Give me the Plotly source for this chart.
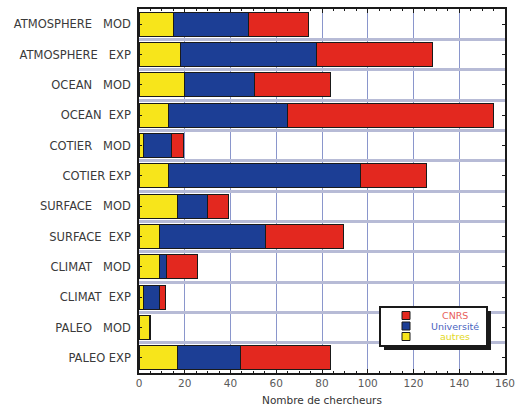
import plotly.graph_objects as go

NB = "\u00a0"

# Research themes, top to bottom
categories = [
    "ATMOSPHERE" + NB * 3 + "MOD",
    "ATMOSPHERE" + NB * 3 + "EXP",
    "OCEAN" + NB * 3 + "MOD",
    "OCEAN" + NB * 2 + "EXP",
    "COTIER" + NB * 3 + "MOD",
    "COTIER" + NB + "EXP",
    "SURFACE" + NB * 3 + "MOD",
    "SURFACE" + NB * 2 + "EXP",
    "CLIMAT" + NB * 3 + "MOD",
    "CLIMAT" + NB * 2 + "EXP",
    "PALEO" + NB * 3 + "MOD",
    "PALEO" + NB + "EXP",
]

# Number of researchers per employer
autres = [15, 18, 20, 13, 2, 13, 17, 9, 9, 2, 4.5, 17]
universite = [33, 59.5, 30.5, 52, 12, 84, 13, 46.5, 3, 7, 0.5, 27.5]
cnrs = [26, 51, 33, 90, 5.5, 28.5, 9, 34, 13.5, 2.5, 0, 39]

x_ticks = [0, 20, 40, 60, 80, 100, 120, 140, 160]

YELLOW = "#f7e51b"
BLUE = "#1c3e95"
RED = "#e3281f"
INK = "#1a1a1a"

W, H = 516, 416
L, R, T, B = 139, 11, 9, 43
FONT = "DejaVu Sans, Liberation Sans, Arial, sans-serif"


def px_x(p):
    return (p - L) / (W - L - R)


def px_y(p):
    return (H - B - p) / (H - T - B)


fig = go.Figure()
series = [
    ("autres", autres, YELLOW, "#e2d81c"),
    ("Université", universite, BLUE, "#4a64c0"),
    ("CNRS", cnrs, RED, "#e8605a"),
]
for name, vals, col, _ in series:
    fig.add_trace(go.Bar(
        y=categories, x=vals, orientation="h", name=name, showlegend=False,
        marker=dict(color=col, line=dict(color=INK, width=1)),
    ))

# overlay axes: category boundary grid lines and the top tick marks
fig.add_trace(go.Scatter(
    y=categories, x=[0] * len(categories), xaxis="x2", yaxis="y2",
    mode="markers", marker=dict(opacity=0), showlegend=False, hoverinfo="skip",
))

n = len(categories)
fig.update_layout(
    width=W, height=H,
    margin=dict(l=L, r=R, t=T, b=B, autoexpand=False),
    paper_bgcolor="white", plot_bgcolor="white",
    barmode="stack", bargap=0.21,
    font=dict(family=FONT, size=10, color="#333333"),
    xaxis=dict(
        range=[0, 160], tickvals=x_ticks, automargin=False,
        ticks="inside", ticklen=4, tickcolor=INK, tickwidth=1,
        showline=True, linecolor=INK, linewidth=1.5, mirror=True,
        showgrid=True, gridcolor="#8a96cc", gridwidth=1,
        minor=dict(dtick=5, ticks="inside", ticklen=2, tickcolor=INK, showgrid=False),
        zeroline=False,
        title=dict(text="Nombre de chercheurs", font=dict(size=10.5, color="#333333"), standoff=8),
        tickfont=dict(size=10.5, color="#5a5a5a"),
    ),
    xaxis2=dict(
        overlaying="x", matches="x", side="top", anchor="y2", automargin=False,
        tickvals=x_ticks, ticks="inside", ticklen=4, tickcolor=INK,
        minor=dict(dtick=5, ticks="inside", ticklen=2, tickcolor=INK, showgrid=False),
        showticklabels=False, showgrid=False, showline=False, zeroline=False,
    ),
    yaxis=dict(
        type="category", categoryorder="array", categoryarray=categories,
        range=[n - 0.5, -0.5], automargin=False,
        ticks="inside", ticklen=3, tickcolor=INK,
        showline=True, linecolor=INK, linewidth=1.5, mirror="ticks",
        showgrid=False,
        tickfont=dict(size=11.5, color="#3a3a3a"),
        ticklabelstandoff=4,
    ),
    yaxis2=dict(
        type="category", categoryorder="array", categoryarray=categories,
        overlaying="y", matches="y", tickson="boundaries", anchor="x2", automargin=False,
        showgrid=True, gridcolor="#b7bbd6", gridwidth=2.5,
        showticklabels=False, ticks="", showline=False,
    ),
)

# legend panel with drop shadow
box = (380, 307, 487, 346)
shapes = [
    dict(type="rect", xref="paper", yref="paper",
         x0=px_x(box[0] + 4), x1=px_x(box[2] + 4), y0=px_y(box[1] + 4), y1=px_y(box[3] + 4),
         fillcolor=INK, line=dict(width=0), layer="above"),
    dict(type="rect", xref="paper", yref="paper",
         x0=px_x(box[0]), x1=px_x(box[2]), y0=px_y(box[1]), y1=px_y(box[3]),
         fillcolor="white", line=dict(color=INK, width=2), layer="above"),
]
annotations = []
for i, (name, _, col, txtcol) in enumerate(reversed(series)):
    cy = 315.5 + 10.5 * i
    shapes.append(dict(
        type="rect", xref="paper", yref="paper",
        x0=px_x(402), x1=px_x(410), y0=px_y(cy - 4), y1=px_y(cy + 4),
        fillcolor=col, line=dict(color=INK, width=1), layer="above"))
    annotations.append(dict(
        xref="paper", yref="paper", x=px_x(455), y=px_y(cy),
        text=name, showarrow=False, xanchor="center", yanchor="middle",
        font=dict(family=FONT, size=9.5, color=txtcol)))

fig.update_layout(shapes=shapes, annotations=annotations)

fig.write_html("out.html")
